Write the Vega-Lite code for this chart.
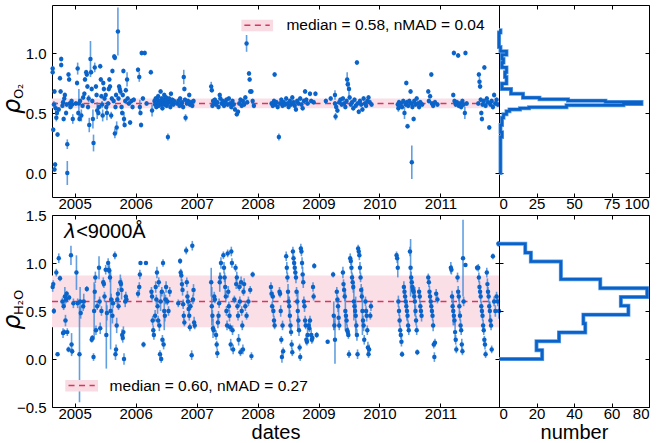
{
  "$schema": "https://vega.github.io/schema/vega-lite/v6.json",
  "background": "white",
  "padding": {"left": 0, "top": 4, "right": 0, "bottom": 0},
  "config": {
    "font": "Liberation Sans",
    "view": {"stroke": "#000000", "strokeWidth": 1},
    "axis": {
      "grid": false, "domain": false, "tickColor": "#000000", "tickSize": -4, "tickWidth": 1,
      "labelFont": "Liberation Sans", "labelFontSize": 15, "labelColor": "#000000", "labelPadding": 6,
      "titleFont": "Liberation Sans", "titleFontSize": 20, "titleFontWeight": "normal", "titleColor": "#000000", "titlePadding": 1
    }
  },
  "datasets": {
    "statO2": [{"median": 0.58, "nmad": 0.04, "lo": 0.54, "hi": 0.62}],
    "statH2O": [{"median": 0.60, "nmad": 0.27, "lo": 0.33, "hi": 0.87}],
    "histO2": [
      {"k": 0, "y": 0.0, "n": 0}, {"k": 1, "y": 0.0, "n": 1}, {"k": 2, "y": 0.30, "n": 2}, {"k": 3, "y": 0.34, "n": 1},
      {"k": 4, "y": 0.40, "n": 2}, {"k": 5, "y": 0.46, "n": 3}, {"k": 6, "y": 0.49, "n": 5}, {"k": 7, "y": 0.515, "n": 7},
      {"k": 8, "y": 0.53, "n": 14}, {"k": 9, "y": 0.54, "n": 20}, {"k": 10, "y": 0.548, "n": 45}, {"k": 11, "y": 0.565, "n": 83},
      {"k": 12, "y": 0.576, "n": 95}, {"k": 13, "y": 0.592, "n": 71}, {"k": 14, "y": 0.603, "n": 46}, {"k": 15, "y": 0.615, "n": 27},
      {"k": 16, "y": 0.628, "n": 16}, {"k": 17, "y": 0.66, "n": 8}, {"k": 18, "y": 0.70, "n": 2}, {"k": 19, "y": 0.745, "n": 5},
      {"k": 20, "y": 0.80, "n": 4}, {"k": 21, "y": 0.84, "n": 5}, {"k": 22, "y": 0.88, "n": 2}, {"k": 23, "y": 0.92, "n": 3},
      {"k": 24, "y": 0.95, "n": 2}, {"k": 25, "y": 0.985, "n": 5}, {"k": 26, "y": 1.015, "n": 1}, {"k": 27, "y": 1.05, "n": 0},
      {"k": 28, "y": 1.17, "n": 1}, {"k": 29, "y": 1.19, "n": 0}
    ],
    "histH2O": [
      {"k": 0, "y": 0.0, "n": 0}, {"k": 1, "y": 0.0, "n": 23}, {"k": 2, "y": 0.092, "n": 20}, {"k": 3, "y": 0.185, "n": 32},
      {"k": 4, "y": 0.277, "n": 46}, {"k": 5, "y": 0.369, "n": 45}, {"k": 6, "y": 0.462, "n": 69}, {"k": 7, "y": 0.554, "n": 65},
      {"k": 8, "y": 0.646, "n": 79}, {"k": 9, "y": 0.738, "n": 54}, {"k": 10, "y": 0.831, "n": 33}, {"k": 11, "y": 0.923, "n": 33},
      {"k": 12, "y": 1.015, "n": 17}, {"k": 13, "y": 1.108, "n": 14}, {"k": 14, "y": 1.2, "n": 0}
    ],
    "o2": [
      {"t":2004.64,"v":0.87,"e":0.02},{"t":2004.64,"v":0.84,"e":0.02},{"t":2004.65,"v":0.36,"e":0.02},{"t":2004.66,"v":0.57,"e":0.03},
      {"t":2004.67,"v":0.03,"e":0.02},{"t":2004.68,"v":0.07,"e":0.02},{"t":2004.67,"v":0.68,"e":0.02},{"t":2004.69,"v":0.54,"e":0.05},
      {"t":2004.70,"v":0.46,"e":0.03},{"t":2004.71,"v":0.50,"e":0.02},{"t":2004.72,"v":0.32,"e":0.02},{"t":2004.74,"v":0.53,"e":0.02},
      {"t":2004.76,"v":0.79,"e":0.02},{"t":2004.77,"v":0.68,"e":0.02},{"t":2004.78,"v":0.95,"e":0.02},{"t":2004.78,"v":0.90,"e":0.02},
      {"t":2004.80,"v":0.56,"e":0.02},{"t":2004.81,"v":0.59,"e":0.02},{"t":2004.82,"v":0.45,"e":0.02},{"t":2004.83,"v":0.62,"e":0.03},
      {"t":2004.84,"v":0.65,"e":0.02},{"t":2004.86,"v":0.50,"e":0.02},{"t":2004.87,"v":0.57,"e":0.02},{"t":2004.88,"v":0.24,"e":0.04},
      {"t":2004.88,"v":0.00,"e":0.10},{"t":2004.90,"v":0.82,"e":0.02},{"t":2004.91,"v":0.78,"e":0.02},{"t":2004.92,"v":0.58,"e":0.02},
      {"t":2004.93,"v":0.55,"e":0.02},{"t":2004.95,"v":0.60,"e":0.02},{"t":2004.96,"v":0.57,"e":0.03},{"t":2004.97,"v":0.45,"e":0.04},
      {"t":2005.02,"v":0.58,"e":0.02},{"t":2005.04,"v":0.75,"e":0.02},{"t":2005.05,"v":0.87,"e":0.05},{"t":2005.06,"v":0.50,"e":0.02},
      {"t":2005.07,"v":0.58,"e":0.12},{"t":2005.08,"v":0.45,"e":0.02},{"t":2005.09,"v":0.60,"e":0.02},{"t":2005.11,"v":0.48,"e":0.05},
      {"t":2005.13,"v":0.56,"e":0.02},{"t":2005.14,"v":0.63,"e":0.02},{"t":2005.16,"v":0.66,"e":0.02},{"t":2005.17,"v":0.78,"e":0.02},
      {"t":2005.19,"v":0.84,"e":0.02},{"t":2005.20,"v":0.82,"e":0.02},{"t":2005.21,"v":0.72,"e":0.02},{"t":2005.22,"v":0.55,"e":0.02},
      {"t":2005.23,"v":0.62,"e":0.03},{"t":2005.24,"v":0.40,"e":0.06},{"t":2005.26,"v":0.95,"e":0.15},{"t":2005.27,"v":0.84,"e":0.02},
      {"t":2005.28,"v":0.70,"e":0.02},{"t":2005.29,"v":0.60,"e":0.02},{"t":2005.30,"v":0.45,"e":0.08},{"t":2005.31,"v":0.25,"e":0.07},
      {"t":2005.33,"v":0.88,"e":0.04},{"t":2005.35,"v":0.72,"e":0.02},{"t":2005.36,"v":0.65,"e":0.02},{"t":2005.37,"v":0.52,"e":0.07},
      {"t":2005.39,"v":0.50,"e":0.02},{"t":2005.40,"v":0.55,"e":0.02},{"t":2005.42,"v":0.89,"e":0.02},{"t":2005.43,"v":0.78,"e":0.02},
      {"t":2005.44,"v":0.64,"e":0.02},{"t":2005.45,"v":0.57,"e":0.03},{"t":2005.46,"v":0.48,"e":0.05},{"t":2005.47,"v":0.75,"e":0.02},
      {"t":2005.48,"v":0.70,"e":0.02},{"t":2005.49,"v":0.62,"e":0.02},
      {"t":2005.51,"v":0.65,"e":0.02},{"t":2005.52,"v":0.55,"e":0.02},{"t":2005.53,"v":0.50,"e":0.06},{"t":2005.55,"v":0.58,"e":0.02},
      {"t":2005.56,"v":0.70,"e":0.02},{"t":2005.57,"v":0.78,"e":0.02},{"t":2005.58,"v":0.72,"e":0.02},{"t":2005.60,"v":0.48,"e":0.03},
      {"t":2005.61,"v":0.62,"e":0.02},{"t":2005.62,"v":0.85,"e":0.02},{"t":2005.64,"v":0.60,"e":0.02},{"t":2005.65,"v":0.97,"e":0.02},
      {"t":2005.66,"v":0.96,"e":0.02},{"t":2005.66,"v":0.33,"e":0.04},{"t":2005.67,"v":0.55,"e":0.02},{"t":2005.68,"v":0.65,"e":0.02},
      {"t":2005.69,"v":0.38,"e":0.05},{"t":2005.71,"v":1.18,"e":0.20},{"t":2005.72,"v":0.62,"e":0.02},{"t":2005.73,"v":0.72,"e":0.02},
      {"t":2005.74,"v":0.70,"e":0.02},{"t":2005.75,"v":0.68,"e":0.03},{"t":2005.77,"v":0.55,"e":0.02},{"t":2005.78,"v":0.50,"e":0.02},
      {"t":2005.79,"v":0.65,"e":0.02},{"t":2005.80,"v":0.85,"e":0.02},{"t":2005.81,"v":0.45,"e":0.06},{"t":2005.82,"v":0.40,"e":0.02},
      {"t":2005.83,"v":0.60,"e":0.02},{"t":2005.84,"v":0.69,"e":0.02},{"t":2005.86,"v":0.78,"e":0.06},{"t":2005.87,"v":0.62,"e":0.02},
      {"t":2005.89,"v":0.58,"e":0.02},{"t":2005.91,"v":0.42,"e":0.02},{"t":2005.93,"v":0.60,"e":0.02},{"t":2005.95,"v":0.55,"e":0.02},
      {"t":2005.97,"v":0.61,"e":0.02},
      {"t":2006.04,"v":0.86,"e":0.02},{"t":2006.06,"v":0.80,"e":0.04},{"t":2006.07,"v":0.55,"e":0.06},{"t":2006.08,"v":0.50,"e":0.02},
      {"t":2006.09,"v":0.40,"e":0.02},{"t":2006.10,"v":1.00,"e":0.02},{"t":2006.12,"v":0.62,"e":0.02},{"t":2006.15,"v":1.00,"e":0.02},
      {"t":2006.18,"v":0.58,"e":0.02},{"t":2006.25,"v":0.84,"e":0.02},{"t":2006.27,"v":0.52,"e":0.05},
      {"t":2006.31,"v":0.60,"e":0.02},{"t":2006.32,"v":0.57,"e":0.02},{"t":2006.33,"v":0.62,"e":0.02},{"t":2006.34,"v":0.55,"e":0.02},
      {"t":2006.35,"v":0.59,"e":0.02},{"t":2006.36,"v":0.61,"e":0.02},{"t":2006.37,"v":0.64,"e":0.02},{"t":2006.38,"v":0.56,"e":0.02},
      {"t":2006.39,"v":0.58,"e":0.02},{"t":2006.40,"v":0.60,"e":0.02},{"t":2006.41,"v":0.68,"e":0.02},{"t":2006.42,"v":0.57,"e":0.02},
      {"t":2006.43,"v":0.62,"e":0.02},{"t":2006.44,"v":0.54,"e":0.02},{"t":2006.45,"v":0.59,"e":0.02},{"t":2006.46,"v":0.61,"e":0.02},
      {"t":2006.47,"v":0.65,"e":0.02},{"t":2006.48,"v":0.57,"e":0.02},{"t":2006.49,"v":0.60,"e":0.02},{"t":2006.50,"v":0.63,"e":0.02},
      {"t":2006.51,"v":0.56,"e":0.02},{"t":2006.52,"v":0.58,"e":0.02},{"t":2006.53,"v":0.30,"e":0.03},{"t":2006.54,"v":0.60,"e":0.02},
      {"t":2006.55,"v":0.62,"e":0.02},{"t":2006.56,"v":0.59,"e":0.02},{"t":2006.57,"v":0.55,"e":0.02},{"t":2006.58,"v":0.66,"e":0.02},
      {"t":2006.59,"v":0.58,"e":0.02},{"t":2006.60,"v":0.61,"e":0.02},{"t":2006.62,"v":0.57,"e":0.02},{"t":2006.63,"v":0.60,"e":0.02},
      {"t":2006.68,"v":0.58,"e":0.02},{"t":2006.70,"v":0.60,"e":0.02},{"t":2006.72,"v":0.56,"e":0.02},{"t":2006.73,"v":0.62,"e":0.02},
      {"t":2006.75,"v":0.57,"e":0.02},{"t":2006.76,"v":0.59,"e":0.02},{"t":2006.78,"v":0.55,"e":0.02},{"t":2006.79,"v":0.80,"e":0.06},
      {"t":2006.80,"v":0.70,"e":0.02},{"t":2006.81,"v":0.61,"e":0.02},{"t":2006.82,"v":0.46,"e":0.03},{"t":2006.84,"v":0.58,"e":0.02},
      {"t":2006.86,"v":0.60,"e":0.02},{"t":2006.88,"v":0.65,"e":0.02},{"t":2006.89,"v":0.57,"e":0.02},{"t":2006.91,"v":0.59,"e":0.02},
      {"t":2006.93,"v":0.56,"e":0.02},{"t":2006.95,"v":0.60,"e":0.02},
      {"t":2007.24,"v":0.72,"e":0.04},{"t":2007.25,"v":0.69,"e":0.02},{"t":2007.26,"v":0.56,"e":0.02},{"t":2007.27,"v":0.60,"e":0.02},
      {"t":2007.29,"v":0.58,"e":0.02},{"t":2007.30,"v":0.61,"e":0.02},{"t":2007.32,"v":0.57,"e":0.02},{"t":2007.34,"v":0.59,"e":0.02},
      {"t":2007.36,"v":0.55,"e":0.02},{"t":2007.38,"v":0.65,"e":0.02},{"t":2007.39,"v":0.62,"e":0.02},{"t":2007.41,"v":0.58,"e":0.02},
      {"t":2007.43,"v":0.60,"e":0.02},{"t":2007.45,"v":0.56,"e":0.02},{"t":2007.47,"v":0.59,"e":0.02},{"t":2007.49,"v":0.61,"e":0.02},
      {"t":2007.51,"v":0.57,"e":0.02},{"t":2007.53,"v":0.62,"e":0.02},{"t":2007.55,"v":0.58,"e":0.02},{"t":2007.57,"v":0.55,"e":0.02},
      {"t":2007.59,"v":0.60,"e":0.02},{"t":2007.61,"v":0.57,"e":0.02},{"t":2007.63,"v":0.53,"e":0.02},{"t":2007.66,"v":0.49,"e":0.02},
      {"t":2007.68,"v":0.51,"e":0.02},{"t":2007.70,"v":0.58,"e":0.02},{"t":2007.72,"v":0.61,"e":0.02},{"t":2007.74,"v":0.56,"e":0.02},
      {"t":2007.76,"v":0.60,"e":0.02},{"t":2007.78,"v":0.57,"e":0.02},{"t":2007.80,"v":0.63,"e":0.02},{"t":2007.82,"v":1.08,"e":0.07},
      {"t":2007.83,"v":0.59,"e":0.02},{"t":2007.86,"v":0.83,"e":0.02},{"t":2007.87,"v":0.78,"e":0.02},{"t":2007.88,"v":0.68,"e":0.02},
      {"t":2007.90,"v":0.68,"e":0.02},{"t":2007.92,"v":0.60,"e":0.02},{"t":2007.94,"v":0.56,"e":0.02},
      {"t":2008.23,"v":0.58,"e":0.02},{"t":2008.25,"v":0.56,"e":0.02},{"t":2008.27,"v":0.60,"e":0.02},{"t":2008.28,"v":0.82,"e":0.02},
      {"t":2008.29,"v":0.57,"e":0.02},{"t":2008.31,"v":0.59,"e":0.02},{"t":2008.33,"v":0.55,"e":0.02},{"t":2008.35,"v":0.30,"e":0.03},
      {"t":2008.37,"v":0.58,"e":0.02},{"t":2008.39,"v":0.61,"e":0.02},{"t":2008.41,"v":0.56,"e":0.02},{"t":2008.43,"v":0.59,"e":0.02},
      {"t":2008.45,"v":0.57,"e":0.02},{"t":2008.47,"v":0.62,"e":0.02},{"t":2008.49,"v":0.58,"e":0.02},{"t":2008.51,"v":0.55,"e":0.02},
      {"t":2008.53,"v":0.60,"e":0.02},{"t":2008.55,"v":0.57,"e":0.02},{"t":2008.57,"v":0.63,"e":0.02},{"t":2008.59,"v":0.59,"e":0.02},
      {"t":2008.61,"v":0.56,"e":0.02},{"t":2008.63,"v":0.53,"e":0.02},{"t":2008.65,"v":0.60,"e":0.02},{"t":2008.67,"v":0.58,"e":0.02},
      {"t":2008.70,"v":0.62,"e":0.02},{"t":2008.72,"v":0.57,"e":0.02},{"t":2008.74,"v":0.54,"e":0.02},{"t":2008.76,"v":0.60,"e":0.02},
      {"t":2008.78,"v":0.68,"e":0.02},{"t":2008.80,"v":0.61,"e":0.02},{"t":2008.82,"v":0.58,"e":0.02},{"t":2008.86,"v":0.66,"e":0.02},
      {"t":2008.88,"v":0.60,"e":0.02},{"t":2008.92,"v":0.59,"e":0.02},{"t":2008.95,"v":0.66,"e":0.02},
      {"t":2009.12,"v":0.60,"e":0.02},{"t":2009.20,"v":0.62,"e":0.02},{"t":2009.27,"v":0.65,"e":0.04},{"t":2009.27,"v":0.58,"e":0.02},
      {"t":2009.28,"v":0.47,"e":0.03},{"t":2009.29,"v":0.55,"e":0.02},{"t":2009.31,"v":0.52,"e":0.02},{"t":2009.34,"v":0.59,"e":0.02},
      {"t":2009.36,"v":0.61,"e":0.02},{"t":2009.38,"v":0.57,"e":0.02},{"t":2009.40,"v":0.62,"e":0.02},{"t":2009.42,"v":0.58,"e":0.02},
      {"t":2009.44,"v":0.55,"e":0.02},{"t":2009.46,"v":0.60,"e":0.02},{"t":2009.47,"v":0.78,"e":0.06},{"t":2009.48,"v":0.74,"e":0.03},
      {"t":2009.50,"v":0.70,"e":0.06},{"t":2009.51,"v":0.63,"e":0.02},{"t":2009.53,"v":0.57,"e":0.02},{"t":2009.55,"v":0.59,"e":0.02},
      {"t":2009.57,"v":0.54,"e":0.02},{"t":2009.59,"v":0.61,"e":0.02},{"t":2009.61,"v":0.56,"e":0.02},{"t":2009.63,"v":0.92,"e":0.02},
      {"t":2009.64,"v":0.58,"e":0.02},{"t":2009.66,"v":0.51,"e":0.02},{"t":2009.68,"v":0.60,"e":0.02},{"t":2009.70,"v":0.57,"e":0.02},
      {"t":2009.72,"v":0.53,"e":0.02},{"t":2009.74,"v":0.62,"e":0.02},{"t":2009.76,"v":0.58,"e":0.02},{"t":2009.78,"v":0.56,"e":0.02},
      {"t":2009.80,"v":0.60,"e":0.02},{"t":2009.82,"v":0.63,"e":0.02},{"t":2009.84,"v":0.59,"e":0.02},{"t":2009.87,"v":0.57,"e":0.02},
      {"t":2010.30,"v":0.57,"e":0.02},{"t":2010.31,"v":0.54,"e":0.03},{"t":2010.32,"v":0.59,"e":0.02},{"t":2010.33,"v":0.56,"e":0.02},
      {"t":2010.35,"v":0.58,"e":0.02},{"t":2010.37,"v":0.55,"e":0.02},{"t":2010.39,"v":0.60,"e":0.02},{"t":2010.41,"v":0.50,"e":0.05},
      {"t":2010.43,"v":0.57,"e":0.02},{"t":2010.44,"v":0.75,"e":0.02},{"t":2010.45,"v":0.59,"e":0.02},{"t":2010.46,"v":0.39,"e":0.02},
      {"t":2010.47,"v":0.56,"e":0.02},{"t":2010.49,"v":0.60,"e":0.02},{"t":2010.51,"v":0.68,"e":0.02},{"t":2010.52,"v":0.58,"e":0.02},
      {"t":2010.53,"v":0.09,"e":0.14},{"t":2010.54,"v":0.55,"e":0.02},{"t":2010.56,"v":0.45,"e":0.02},{"t":2010.57,"v":0.60,"e":0.02},
      {"t":2010.59,"v":0.57,"e":0.02},{"t":2010.61,"v":0.62,"e":0.02},{"t":2010.63,"v":0.58,"e":0.02},{"t":2010.65,"v":0.55,"e":0.02},
      {"t":2010.67,"v":0.59,"e":0.02},{"t":2010.70,"v":0.57,"e":0.02},{"t":2010.80,"v":0.68,"e":0.02},{"t":2010.81,"v":0.60,"e":0.02},
      {"t":2010.83,"v":0.64,"e":0.02},{"t":2010.85,"v":0.82,"e":0.02},{"t":2010.86,"v":0.58,"e":0.02},{"t":2010.88,"v":0.56,"e":0.02},
      {"t":2010.91,"v":0.59,"e":0.02},{"t":2010.95,"v":0.57,"e":0.02},
      {"t":2011.21,"v":0.65,"e":0.02},{"t":2011.22,"v":1.00,"e":0.02},{"t":2011.23,"v":0.60,"e":0.02},{"t":2011.25,"v":0.57,"e":0.02},
      {"t":2011.27,"v":0.59,"e":0.02},{"t":2011.29,"v":0.98,"e":0.02},{"t":2011.30,"v":0.56,"e":0.02},{"t":2011.32,"v":0.58,"e":0.02},
      {"t":2011.34,"v":0.55,"e":0.02},{"t":2011.36,"v":0.60,"e":0.02},{"t":2011.38,"v":0.57,"e":0.02},{"t":2011.40,"v":0.50,"e":0.05},
      {"t":2011.41,"v":1.00,"e":0.02},{"t":2011.43,"v":0.58,"e":0.02},
      {"t":2011.62,"v":0.58,"e":0.02},{"t":2011.63,"v":0.82,"e":0.02},{"t":2011.64,"v":0.76,"e":0.04},{"t":2011.65,"v":0.72,"e":0.02},
      {"t":2011.66,"v":0.61,"e":0.02},{"t":2011.67,"v":0.50,"e":0.02},{"t":2011.68,"v":0.45,"e":0.02},{"t":2011.69,"v":0.57,"e":0.02},
      {"t":2011.71,"v":0.60,"e":0.02},{"t":2011.72,"v":0.88,"e":0.02},{"t":2011.74,"v":0.56,"e":0.02},{"t":2011.76,"v":0.62,"e":0.02},
      {"t":2011.78,"v":0.59,"e":0.02},{"t":2011.80,"v":0.38,"e":0.02},{"t":2011.82,"v":0.57,"e":0.02},{"t":2011.84,"v":0.60,"e":0.02},
      {"t":2011.86,"v":0.55,"e":0.02},{"t":2011.88,"v":0.65,"e":0.02},{"t":2011.90,"v":0.58,"e":0.02},{"t":2011.92,"v":0.61,"e":0.02},
      {"t":2011.94,"v":0.57,"e":0.02}
    ],
    "h2o": [
      {"t":2004.64,"v":0.75,"e":0.05},{"t":2004.65,"v":0.78,"e":0.04},{"t":2004.66,"v":0.50,"e":0.03},{"t":2004.70,"v":0.90,"e":0.04},
      {"t":2004.72,"v":0.05,"e":0.02},{"t":2004.74,"v":1.05,"e":0.05},{"t":2004.76,"v":0.84,"e":0.03},{"t":2004.80,"v":0.60,"e":0.04},
      {"t":2004.81,"v":0.27,"e":0.05},{"t":2004.82,"v":0.55,"e":0.04},{"t":2004.83,"v":0.28,"e":0.03},{"t":2004.84,"v":0.65,"e":0.10},
      {"t":2004.85,"v":0.40,"e":0.06},{"t":2004.86,"v":0.62,"e":0.04},{"t":2004.87,"v":0.68,"e":0.03},{"t":2004.88,"v":0.28,"e":0.04},
      {"t":2004.90,"v":0.10,"e":0.03},{"t":2004.91,"v":0.64,"e":0.03},{"t":2004.94,"v":1.08,"e":0.10},{"t":2004.95,"v":0.15,"e":0.12},
      {"t":2004.96,"v":0.08,"e":0.03},{"t":2004.98,"v":0.58,"e":0.05},
      {"t":2005.03,"v":0.90,"e":0.18},{"t":2005.05,"v":0.58,"e":0.05},{"t":2005.08,"v":0.05,"e":0.50},{"t":2005.09,"v":0.60,"e":0.15},
      {"t":2005.10,"v":0.48,"e":0.06},{"t":2005.14,"v":0.55,"e":0.05},{"t":2005.15,"v":0.60,"e":0.08},{"t":2005.20,"v":0.73,"e":0.03},
      {"t":2005.28,"v":0.20,"e":0.03},{"t":2005.29,"v":0.22,"e":0.03},{"t":2005.31,"v":0.02,"e":0.04},{"t":2005.32,"v":0.50,"e":0.30},
      {"t":2005.33,"v":0.70,"e":0.08},{"t":2005.34,"v":0.85,"e":0.06},{"t":2005.35,"v":0.30,"e":0.05},{"t":2005.37,"v":0.55,"e":0.04},
      {"t":2005.40,"v":0.95,"e":0.12},{"t":2005.41,"v":0.60,"e":0.05},{"t":2005.42,"v":0.32,"e":0.06},{"t":2005.44,"v":0.50,"e":0.05},
      {"t":2005.47,"v":0.80,"e":0.05},{"t":2005.48,"v":0.78,"e":0.04},{"t":2005.49,"v":0.65,"e":0.05},
      {"t":2005.51,"v":0.93,"e":0.05},{"t":2005.52,"v":0.25,"e":0.35},{"t":2005.53,"v":0.48,"e":0.08},{"t":2005.55,"v":1.00,"e":0.05},
      {"t":2005.56,"v":0.93,"e":0.04},{"t":2005.57,"v":0.92,"e":0.06},{"t":2005.58,"v":0.85,"e":0.05},{"t":2005.59,"v":0.50,"e":0.40},
      {"t":2005.60,"v":0.62,"e":0.06},{"t":2005.62,"v":0.45,"e":0.08},{"t":2005.63,"v":0.58,"e":0.05},{"t":2005.66,"v":1.08,"e":0.04},
      {"t":2005.67,"v":0.05,"e":0.06},{"t":2005.68,"v":0.10,"e":0.05},{"t":2005.69,"v":0.35,"e":0.08},{"t":2005.70,"v":0.62,"e":0.05},
      {"t":2005.71,"v":0.68,"e":0.06},{"t":2005.72,"v":0.55,"e":0.04},{"t":2005.75,"v":0.80,"e":0.08},{"t":2005.76,"v":0.78,"e":0.06},
      {"t":2005.77,"v":0.72,"e":0.10},{"t":2005.78,"v":0.25,"e":0.06},{"t":2005.79,"v":0.22,"e":0.05},{"t":2005.80,"v":0.28,"e":0.06},
      {"t":2005.81,"v":0.00,"e":0.06},{"t":2005.83,"v":0.60,"e":0.06},{"t":2005.84,"v":0.65,"e":0.05},{"t":2005.85,"v":0.62,"e":0.04},
      {"t":2006.04,"v":0.68,"e":0.04},{"t":2006.06,"v":0.75,"e":0.05},{"t":2006.07,"v":0.88,"e":0.05},{"t":2006.08,"v":1.00,"e":0.02},
      {"t":2006.13,"v":0.15,"e":0.03},{"t":2006.17,"v":1.00,"e":0.02},{"t":2006.26,"v":0.70,"e":0.05},{"t":2006.27,"v":0.65,"e":0.04},
      {"t":2006.28,"v":0.40,"e":0.05},{"t":2006.29,"v":0.30,"e":0.05},{"t":2006.30,"v":0.25,"e":0.05},
      {"t":2006.32,"v":0.45,"e":0.06},{"t":2006.33,"v":0.75,"e":0.06},{"t":2006.34,"v":0.62,"e":0.05},{"t":2006.35,"v":0.90,"e":0.06},
      {"t":2006.36,"v":0.55,"e":0.08},{"t":2006.37,"v":0.40,"e":0.05},{"t":2006.38,"v":0.80,"e":0.05},{"t":2006.39,"v":0.35,"e":0.06},
      {"t":2006.40,"v":0.05,"e":0.04},{"t":2006.41,"v":0.60,"e":0.10},{"t":2006.42,"v":0.00,"e":0.04},{"t":2006.43,"v":0.70,"e":0.05},
      {"t":2006.44,"v":0.20,"e":0.05},{"t":2006.45,"v":1.00,"e":0.04},{"t":2006.46,"v":0.15,"e":0.05},{"t":2006.47,"v":0.50,"e":0.20},
      {"t":2006.48,"v":0.45,"e":0.06},{"t":2006.49,"v":0.62,"e":0.05},{"t":2006.50,"v":0.75,"e":0.06},{"t":2006.52,"v":0.60,"e":0.04},
      {"t":2006.54,"v":0.50,"e":0.05},{"t":2006.56,"v":0.70,"e":0.05},
      {"t":2006.70,"v":0.58,"e":0.04},{"t":2006.73,"v":1.02,"e":0.03},{"t":2006.74,"v":0.90,"e":0.04},{"t":2006.75,"v":0.87,"e":0.06},
      {"t":2006.76,"v":0.78,"e":0.05},{"t":2006.77,"v":0.72,"e":0.06},{"t":2006.78,"v":0.57,"e":0.05},{"t":2006.79,"v":0.45,"e":0.05},
      {"t":2006.80,"v":0.38,"e":0.04},{"t":2006.83,"v":1.13,"e":0.04},{"t":2006.84,"v":0.80,"e":0.05},{"t":2006.85,"v":0.65,"e":0.06},
      {"t":2006.86,"v":0.60,"e":0.05},{"t":2006.87,"v":0.52,"e":0.06},{"t":2006.88,"v":0.45,"e":0.05},{"t":2006.89,"v":0.33,"e":0.04},
      {"t":2006.90,"v":0.55,"e":0.04},{"t":2006.92,"v":0.04,"e":0.05},{"t":2006.93,"v":1.18,"e":0.05},{"t":2006.94,"v":0.62,"e":0.05},
      {"t":2006.95,"v":0.72,"e":0.06},{"t":2006.96,"v":0.38,"e":0.06},{"t":2006.97,"v":0.35,"e":0.04},
      {"t":2007.24,"v":0.80,"e":0.15},{"t":2007.25,"v":0.55,"e":0.20},{"t":2007.26,"v":0.45,"e":0.06},{"t":2007.27,"v":0.32,"e":0.10},
      {"t":2007.28,"v":0.30,"e":0.05},{"t":2007.29,"v":0.65,"e":0.05},{"t":2007.30,"v":0.62,"e":0.04},{"t":2007.32,"v":0.25,"e":0.05},
      {"t":2007.33,"v":0.15,"e":0.04},{"t":2007.34,"v":0.06,"e":0.05},{"t":2007.35,"v":0.38,"e":0.06},{"t":2007.36,"v":0.45,"e":0.05},
      {"t":2007.37,"v":0.58,"e":0.05},{"t":2007.38,"v":0.80,"e":0.10},{"t":2007.39,"v":0.85,"e":0.05},{"t":2007.40,"v":1.00,"e":0.06},
      {"t":2007.44,"v":1.08,"e":0.04},{"t":2007.45,"v":0.95,"e":0.06},{"t":2007.46,"v":0.85,"e":0.05},{"t":2007.47,"v":0.75,"e":0.08},
      {"t":2007.48,"v":0.65,"e":0.06},{"t":2007.49,"v":0.50,"e":0.05},{"t":2007.50,"v":0.35,"e":0.05},{"t":2007.51,"v":1.10,"e":0.04},
      {"t":2007.52,"v":0.70,"e":0.06},{"t":2007.53,"v":0.55,"e":0.05},{"t":2007.54,"v":0.45,"e":0.06},{"t":2007.55,"v":0.33,"e":0.04},
      {"t":2007.56,"v":0.15,"e":0.06},{"t":2007.57,"v":1.12,"e":0.05},{"t":2007.58,"v":1.00,"e":0.05},{"t":2007.59,"v":0.30,"e":0.05},
      {"t":2007.60,"v":0.10,"e":0.05},{"t":2007.62,"v":0.62,"e":0.04},{"t":2007.64,"v":0.95,"e":0.04},{"t":2007.65,"v":0.78,"e":0.05},
      {"t":2007.66,"v":0.85,"e":0.06},{"t":2007.67,"v":0.55,"e":0.04},{"t":2007.68,"v":0.45,"e":0.05},{"t":2007.69,"v":0.20,"e":0.06},
      {"t":2007.70,"v":0.75,"e":0.04},{"t":2007.71,"v":0.60,"e":0.05},{"t":2007.72,"v":0.07,"e":0.04},{"t":2007.73,"v":0.80,"e":0.06},
      {"t":2007.74,"v":0.50,"e":0.05},{"t":2007.75,"v":0.35,"e":0.05},{"t":2007.76,"v":0.10,"e":0.05},{"t":2007.77,"v":0.70,"e":0.04},
      {"t":2007.78,"v":0.78,"e":0.06},{"t":2007.80,"v":0.55,"e":0.05},{"t":2007.82,"v":0.45,"e":0.04},{"t":2007.85,"v":0.60,"e":0.05},
      {"t":2007.88,"v":0.72,"e":0.04},{"t":2007.90,"v":0.03,"e":0.04},{"t":2007.92,"v":0.88,"e":0.03},
      {"t":2008.22,"v":0.75,"e":0.05},{"t":2008.23,"v":0.68,"e":0.04},{"t":2008.24,"v":0.55,"e":0.05},{"t":2008.25,"v":0.65,"e":0.05},
      {"t":2008.26,"v":0.50,"e":0.06},{"t":2008.27,"v":0.40,"e":0.05},{"t":2008.28,"v":0.35,"e":0.04},{"t":2008.36,"v":0.70,"e":0.05},
      {"t":2008.37,"v":0.68,"e":0.04},{"t":2008.38,"v":0.50,"e":0.06},{"t":2008.39,"v":0.20,"e":0.04},{"t":2008.40,"v":0.02,"e":0.06},
      {"t":2008.41,"v":0.35,"e":0.05},{"t":2008.42,"v":0.08,"e":0.04},{"t":2008.47,"v":1.07,"e":0.05},{"t":2008.48,"v":0.95,"e":0.06},
      {"t":2008.49,"v":0.85,"e":0.05},{"t":2008.50,"v":0.70,"e":0.08},{"t":2008.51,"v":0.60,"e":0.05},{"t":2008.52,"v":0.55,"e":0.10},
      {"t":2008.53,"v":0.45,"e":0.06},{"t":2008.54,"v":0.35,"e":0.05},{"t":2008.55,"v":0.28,"e":0.04},{"t":2008.56,"v":0.15,"e":0.05},
      {"t":2008.57,"v":0.07,"e":0.04},{"t":2008.58,"v":1.12,"e":0.05},{"t":2008.59,"v":1.05,"e":0.04},{"t":2008.60,"v":1.00,"e":0.05},
      {"t":2008.61,"v":0.95,"e":0.06},{"t":2008.62,"v":0.90,"e":0.05},{"t":2008.63,"v":0.85,"e":0.06},{"t":2008.64,"v":0.70,"e":0.05},
      {"t":2008.65,"v":0.60,"e":0.04},{"t":2008.66,"v":0.50,"e":0.20},{"t":2008.67,"v":0.40,"e":0.05},{"t":2008.68,"v":0.30,"e":0.06},
      {"t":2008.69,"v":0.12,"e":0.04},{"t":2008.70,"v":0.02,"e":0.04},{"t":2008.71,"v":1.15,"e":0.05},{"t":2008.72,"v":1.12,"e":0.05},
      {"t":2008.73,"v":1.00,"e":0.06},{"t":2008.74,"v":0.88,"e":0.08},{"t":2008.75,"v":0.80,"e":0.06},{"t":2008.76,"v":0.60,"e":0.05},
      {"t":2008.77,"v":0.55,"e":0.06},{"t":2008.78,"v":0.40,"e":0.05},{"t":2008.79,"v":0.35,"e":0.04},{"t":2008.80,"v":0.20,"e":0.05},
      {"t":2008.81,"v":0.18,"e":0.04},{"t":2008.82,"v":0.25,"e":0.06},{"t":2008.84,"v":0.35,"e":0.05},{"t":2008.85,"v":0.32,"e":0.04},
      {"t":2008.86,"v":0.40,"e":0.05},{"t":2008.88,"v":0.25,"e":0.06},{"t":2008.89,"v":0.20,"e":0.04},{"t":2008.90,"v":0.22,"e":0.05},
      {"t":2008.91,"v":0.75,"e":0.05},{"t":2008.92,"v":0.65,"e":0.04},{"t":2008.93,"v":0.97,"e":0.03},{"t":2008.97,"v":0.25,"e":0.03},
      {"t":2009.15,"v":0.18,"e":0.02},{"t":2009.24,"v":0.88,"e":0.03},{"t":2009.25,"v":0.45,"e":0.15},{"t":2009.26,"v":0.35,"e":0.05},
      {"t":2009.27,"v":0.20,"e":0.25},{"t":2009.30,"v":0.70,"e":0.05},{"t":2009.31,"v":0.62,"e":0.04},{"t":2009.32,"v":0.55,"e":0.06},
      {"t":2009.33,"v":0.43,"e":0.10},{"t":2009.34,"v":0.35,"e":0.05},{"t":2009.40,"v":0.90,"e":0.06},{"t":2009.41,"v":0.78,"e":0.05},
      {"t":2009.42,"v":0.72,"e":0.06},{"t":2009.43,"v":0.65,"e":0.05},{"t":2009.44,"v":0.50,"e":0.20},{"t":2009.45,"v":0.45,"e":0.06},
      {"t":2009.46,"v":0.40,"e":0.05},{"t":2009.47,"v":0.30,"e":0.06},{"t":2009.48,"v":0.28,"e":0.05},{"t":2009.49,"v":0.25,"e":0.04},
      {"t":2009.50,"v":0.05,"e":0.04},{"t":2009.52,"v":1.05,"e":0.05},{"t":2009.53,"v":1.02,"e":0.04},{"t":2009.54,"v":0.95,"e":0.06},
      {"t":2009.55,"v":0.85,"e":0.05},{"t":2009.56,"v":0.80,"e":0.08},{"t":2009.57,"v":0.75,"e":0.06},{"t":2009.58,"v":0.60,"e":0.20},
      {"t":2009.59,"v":0.55,"e":0.05},{"t":2009.60,"v":0.50,"e":0.06},{"t":2009.61,"v":0.45,"e":0.20},{"t":2009.62,"v":0.35,"e":0.05},
      {"t":2009.63,"v":0.25,"e":0.06},{"t":2009.64,"v":0.05,"e":0.05},{"t":2009.65,"v":1.15,"e":0.04},{"t":2009.66,"v":1.12,"e":0.05},
      {"t":2009.67,"v":1.08,"e":0.05},{"t":2009.68,"v":0.95,"e":0.06},{"t":2009.69,"v":0.85,"e":0.05},{"t":2009.70,"v":0.72,"e":0.06},
      {"t":2009.71,"v":0.65,"e":0.05},{"t":2009.72,"v":0.50,"e":0.25},{"t":2009.73,"v":0.40,"e":0.05},{"t":2009.74,"v":0.35,"e":0.06},
      {"t":2009.75,"v":0.20,"e":0.05},{"t":2009.77,"v":0.60,"e":0.05},{"t":2009.78,"v":0.50,"e":0.05},{"t":2009.79,"v":0.45,"e":0.06},
      {"t":2009.80,"v":0.30,"e":0.05},{"t":2009.81,"v":0.12,"e":0.06},{"t":2009.82,"v":0.05,"e":0.04},{"t":2009.83,"v":0.10,"e":0.05},
      {"t":2009.85,"v":0.45,"e":0.04},{"t":2009.86,"v":0.55,"e":0.05},
      {"t":2010.28,"v":1.08,"e":0.04},{"t":2010.29,"v":1.05,"e":0.05},{"t":2010.30,"v":0.95,"e":0.10},{"t":2010.31,"v":0.60,"e":0.06},
      {"t":2010.32,"v":0.50,"e":0.05},{"t":2010.33,"v":0.40,"e":0.06},{"t":2010.34,"v":0.30,"e":0.05},{"t":2010.35,"v":0.25,"e":0.04},
      {"t":2010.36,"v":0.18,"e":0.05},{"t":2010.37,"v":0.05,"e":0.03},{"t":2010.40,"v":0.75,"e":0.06},{"t":2010.41,"v":0.70,"e":0.05},
      {"t":2010.42,"v":0.65,"e":0.05},{"t":2010.43,"v":0.60,"e":0.06},{"t":2010.44,"v":0.55,"e":0.05},{"t":2010.45,"v":0.50,"e":0.10},
      {"t":2010.46,"v":0.45,"e":0.06},{"t":2010.47,"v":0.35,"e":0.05},{"t":2010.48,"v":0.30,"e":0.05},{"t":2010.50,"v":1.12,"e":0.05},
      {"t":2010.51,"v":0.95,"e":0.30},{"t":2010.52,"v":0.85,"e":0.06},{"t":2010.53,"v":0.80,"e":0.05},{"t":2010.54,"v":0.75,"e":0.06},
      {"t":2010.55,"v":0.72,"e":0.05},{"t":2010.56,"v":0.70,"e":0.06},{"t":2010.57,"v":0.65,"e":0.05},{"t":2010.58,"v":0.60,"e":0.15},
      {"t":2010.59,"v":0.50,"e":0.06},{"t":2010.60,"v":0.40,"e":0.05},{"t":2010.61,"v":0.30,"e":0.05},{"t":2010.62,"v":0.07,"e":0.03},
      {"t":2010.65,"v":0.70,"e":0.05},{"t":2010.66,"v":0.65,"e":0.06},{"t":2010.67,"v":0.55,"e":0.05},{"t":2010.68,"v":0.50,"e":0.05},
      {"t":2010.69,"v":0.45,"e":0.06},{"t":2010.80,"v":0.85,"e":0.04},{"t":2010.81,"v":0.80,"e":0.05},{"t":2010.82,"v":0.70,"e":0.06},
      {"t":2010.83,"v":0.65,"e":0.05},{"t":2010.84,"v":0.60,"e":0.06},{"t":2010.85,"v":0.55,"e":0.05},{"t":2010.86,"v":0.50,"e":0.06},
      {"t":2010.87,"v":0.45,"e":0.05},{"t":2010.88,"v":0.35,"e":0.06},{"t":2010.89,"v":0.15,"e":0.04},{"t":2010.90,"v":0.02,"e":0.05},
      {"t":2010.91,"v":0.17,"e":0.04},{"t":2010.93,"v":0.68,"e":0.05},{"t":2010.95,"v":0.62,"e":0.04},
      {"t":2011.17,"v":0.95,"e":0.06},{"t":2011.18,"v":0.93,"e":0.05},{"t":2011.19,"v":0.65,"e":0.06},{"t":2011.20,"v":0.55,"e":0.05},
      {"t":2011.21,"v":0.50,"e":0.15},{"t":2011.22,"v":0.45,"e":0.06},{"t":2011.23,"v":0.40,"e":0.05},{"t":2011.24,"v":0.28,"e":0.10},
      {"t":2011.25,"v":0.20,"e":0.05},{"t":2011.26,"v":0.10,"e":0.04},{"t":2011.28,"v":0.85,"e":0.05},{"t":2011.29,"v":0.70,"e":0.06},
      {"t":2011.30,"v":0.65,"e":0.05},{"t":2011.31,"v":0.55,"e":0.10},{"t":2011.32,"v":0.45,"e":0.05},{"t":2011.33,"v":0.35,"e":0.06},
      {"t":2011.34,"v":0.30,"e":0.05},{"t":2011.35,"v":0.15,"e":0.06},{"t":2011.36,"v":0.08,"e":0.04},{"t":2011.37,"v":1.05,"e":0.40},
      {"t":2011.38,"v":0.60,"e":0.05},{"t":2011.41,"v":0.98,"e":0.02},
      {"t":2011.60,"v":0.95,"e":0.03},{"t":2011.62,"v":0.95,"e":0.04},{"t":2011.63,"v":0.85,"e":0.05},{"t":2011.64,"v":0.75,"e":0.06},
      {"t":2011.65,"v":0.70,"e":0.05},{"t":2011.66,"v":0.65,"e":0.06},{"t":2011.67,"v":0.55,"e":0.05},{"t":2011.68,"v":0.50,"e":0.06},
      {"t":2011.69,"v":0.45,"e":0.05},{"t":2011.70,"v":0.35,"e":0.06},{"t":2011.71,"v":0.30,"e":0.05},{"t":2011.72,"v":0.20,"e":0.04},
      {"t":2011.73,"v":0.15,"e":0.05},{"t":2011.74,"v":0.05,"e":0.04},{"t":2011.76,"v":0.90,"e":0.05},{"t":2011.77,"v":0.78,"e":0.06},
      {"t":2011.78,"v":0.70,"e":0.05},{"t":2011.79,"v":0.65,"e":0.06},{"t":2011.80,"v":0.55,"e":0.05},{"t":2011.81,"v":0.50,"e":0.10},
      {"t":2011.82,"v":0.40,"e":0.06},{"t":2011.83,"v":0.35,"e":0.05},{"t":2011.84,"v":0.10,"e":0.04},{"t":2011.86,"v":1.07,"e":0.03},
      {"t":2011.88,"v":0.60,"e":0.05},{"t":2011.90,"v":0.50,"e":0.06},{"t":2011.92,"v":0.65,"e":0.05},{"t":2011.94,"v":0.60,"e":0.05},
      {"t":2011.95,"v":1.20,"e":0.03},{"t":2011.96,"v":0.50,"e":0.08}
    ]
  },
  "columns": 2,
  "spacing": {"row": 18, "column": 0},
  "bounds": "flush",
  "concat": [
    {
      "width": 447,
      "height": 192,
      "resolve": {"axis": {"x": "independent", "y": "independent"}},
      "layer": [
        {
          "data": {"name": "statO2"},
          "mark": {"type": "rect", "color": "#fadfe7"},
          "encoding": {
            "y": {"field": "lo", "type": "quantitative", "scale": {"domain": [-0.2, 1.4], "nice": false, "zero": false}, "axis": null},
            "y2": {"field": "hi"}
          }
        },
        {
          "data": {"name": "statO2"},
          "mark": {"type": "rule", "color": "#e0335c", "strokeDash": [6, 4.5], "strokeWidth": 1.5},
          "encoding": {
            "y": {"field": "median", "type": "quantitative", "scale": {"domain": [-0.2, 1.4], "nice": false, "zero": false}, "axis": null}
          }
        },
        {
          "data": {"name": "o2"},
          "mark": {"type": "errorbar", "color": "#3b87d9", "thickness": 1.6, "opacity": 0.8},
          "encoding": {
            "x": {"field": "t", "type": "quantitative", "scale": {"domain": [2004.629, 2011.96], "nice": false, "zero": false},
                  "axis": {"orient": "top", "labels": false, "values": [2005, 2006, 2007, 2008, 2009, 2010, 2011], "title": null}},
            "y": {"field": "v", "type": "quantitative", "scale": {"domain": [-0.2, 1.4], "nice": false, "zero": false},
                  "axis": {"orient": "right", "labels": false, "values": [0, 0.5, 1], "title": null}},
            "yError": {"field": "e"}
          }
        },
        {
          "data": {"name": "o2"},
          "mark": {"type": "circle", "size": 20, "opacity": 1, "color": "#0a63c9"},
          "encoding": {
            "x": {"field": "t", "type": "quantitative", "scale": {"domain": [2004.629, 2011.96], "nice": false, "zero": false},
                  "axis": {"orient": "bottom", "values": [2005, 2006, 2007, 2008, 2009, 2010, 2011], "format": "d", "title": null, "labelPadding": 3}},
            "y": {"field": "v", "type": "quantitative", "scale": {"domain": [-0.2, 1.4], "nice": false, "zero": false},
                  "axis": {"orient": "left", "values": [0, 0.5, 1], "format": ".1f", "title": null, "labelPadding": 10}}
          }
        },
        {
          "data": {"name": "statO2"},
          "mark": {"type": "rect", "color": "#f8dbe3"},
          "encoding": {
            "x": {"datum": 2007.735, "type": "quantitative", "scale": {"domain": [2004.629, 2011.96], "nice": false, "zero": false}, "axis": null},
            "x2": {"datum": 2008.255},
            "y": {"datum": 1.278, "type": "quantitative", "scale": {"domain": [-0.2, 1.4], "nice": false, "zero": false}, "axis": null},
            "y2": {"datum": 1.181}
          }
        },
        {
          "data": {"name": "statO2"},
          "mark": {"type": "rule", "color": "#e0335c", "strokeDash": [6, 4.5], "strokeWidth": 1.5},
          "encoding": {
            "x": {"datum": 2007.784, "type": "quantitative", "scale": {"domain": [2004.629, 2011.96], "nice": false, "zero": false}, "axis": null},
            "x2": {"datum": 2008.2},
            "y": {"datum": 1.231, "type": "quantitative", "scale": {"domain": [-0.2, 1.4], "nice": false, "zero": false}, "axis": null}
          }
        },
        {
          "data": {"name": "statO2"},
          "mark": {"type": "text", "text": "median = 0.58, nMAD = 0.04", "align": "left", "baseline": "middle", "fontSize": 15.5, "color": "#000000"},
          "encoding": {
            "x": {"datum": 2008.473, "type": "quantitative", "scale": {"domain": [2004.629, 2011.96], "nice": false, "zero": false}, "axis": null},
            "y": {"datum": 1.231, "type": "quantitative", "scale": {"domain": [-0.2, 1.4], "nice": false, "zero": false}, "axis": null}
          }
        },
        {
          "data": {"name": "statO2"},
          "mark": {"type": "text", "text": "ρ", "angle": 270, "align": "center", "baseline": "middle", "fontSize": 24, "fontStyle": "italic", "font": "DejaVu Sans", "color": "#000000"},
          "encoding": {
            "x": {"datum": 2003.994, "type": "quantitative", "scale": {"domain": [2004.629, 2011.96], "nice": false, "zero": false}, "axis": null},
            "y": {"datum": 0.555, "type": "quantitative", "scale": {"domain": [-0.2, 1.4], "nice": false, "zero": false}, "axis": null}
          }
        },
        {
          "data": {"name": "statO2"},
          "mark": {"type": "text", "text": "O₂", "angle": 270, "align": "center", "baseline": "middle", "fontSize": 13, "font": "DejaVu Sans", "color": "#000000"},
          "encoding": {
            "x": {"datum": 2004.08, "type": "quantitative", "scale": {"domain": [2004.629, 2011.96], "nice": false, "zero": false}, "axis": null},
            "y": {"datum": 0.68, "type": "quantitative", "scale": {"domain": [-0.2, 1.4], "nice": false, "zero": false}, "axis": null}
          }
        }
      ]
    },
    {
      "width": 150,
      "height": 192,
      "resolve": {"axis": {"x": "independent", "y": "independent"}},
      "layer": [
        {
          "data": {"name": "histO2"},
          "mark": {"type": "line", "interpolate": "step-before", "color": "#5d9ee6", "strokeWidth": 4},
          "encoding": {
            "x": {"field": "n", "type": "quantitative", "scale": {"domain": [0, 100], "nice": false},
                  "axis": {"orient": "bottom", "values": [0, 25, 50, 75, 100], "title": null, "labelPadding": 3}},
            "y": {"field": "y", "type": "quantitative", "scale": {"domain": [-0.2, 1.4], "nice": false, "zero": false},
                  "axis": {"orient": "left", "labels": false, "values": [0, 0.5, 1], "title": null}},
            "order": {"field": "k", "type": "quantitative"}
          }
        },
        {
          "data": {"name": "histO2"},
          "mark": {"type": "line", "interpolate": "step-before", "color": "#0a62c8", "strokeWidth": 2.6},
          "encoding": {
            "x": {"field": "n", "type": "quantitative", "scale": {"domain": [0, 100], "nice": false},
                  "axis": {"orient": "top", "labels": false, "values": [0, 25, 50, 75, 100], "title": null}},
            "y": {"field": "y", "type": "quantitative", "scale": {"domain": [-0.2, 1.4], "nice": false, "zero": false},
                  "axis": {"orient": "right", "labels": false, "values": [0, 0.5, 1], "title": null}},
            "order": {"field": "k", "type": "quantitative"}
          }
        }
      ]
    },
    {
      "width": 447,
      "height": 192,
      "resolve": {"axis": {"x": "independent", "y": "independent"}},
      "layer": [
        {
          "data": {"name": "statH2O"},
          "mark": {"type": "rect", "color": "#fadfe7"},
          "encoding": {
            "y": {"field": "lo", "type": "quantitative", "scale": {"domain": [-0.5, 1.5], "nice": false, "zero": false}, "axis": null},
            "y2": {"field": "hi"}
          }
        },
        {
          "data": {"name": "statH2O"},
          "mark": {"type": "rule", "color": "#e0335c", "strokeDash": [6, 4.5], "strokeWidth": 1.5},
          "encoding": {
            "y": {"field": "median", "type": "quantitative", "scale": {"domain": [-0.5, 1.5], "nice": false, "zero": false}, "axis": null}
          }
        },
        {
          "data": {"name": "h2o"},
          "mark": {"type": "errorbar", "color": "#3b87d9", "thickness": 1.6, "opacity": 0.8},
          "encoding": {
            "x": {"field": "t", "type": "quantitative", "scale": {"domain": [2004.629, 2011.96], "nice": false, "zero": false},
                  "axis": {"orient": "top", "labels": false, "values": [2005, 2006, 2007, 2008, 2009, 2010, 2011], "title": null}},
            "y": {"field": "v", "type": "quantitative", "scale": {"domain": [-0.5, 1.5], "nice": false, "zero": false},
                  "axis": {"orient": "right", "labels": false, "values": [-0.5, 0, 0.5, 1, 1.5], "title": null}},
            "yError": {"field": "e"}
          }
        },
        {
          "data": {"name": "h2o"},
          "mark": {"type": "circle", "size": 20, "opacity": 1, "color": "#0a63c9"},
          "encoding": {
            "x": {"field": "t", "type": "quantitative", "scale": {"domain": [2004.629, 2011.96], "nice": false, "zero": false},
                  "axis": {"orient": "bottom", "values": [2005, 2006, 2007, 2008, 2009, 2010, 2011], "format": "d", "title": "dates", "labelPadding": 3}},
            "y": {"field": "v", "type": "quantitative", "scale": {"domain": [-0.5, 1.5], "nice": false, "zero": false},
                  "axis": {"orient": "left", "values": [-0.5, 0, 0.5, 1, 1.5], "format": ".1f", "title": null, "labelPadding": 10}}
          }
        },
        {
          "data": {"name": "statH2O"},
          "mark": {"type": "rect", "color": "#f8dbe3"},
          "encoding": {
            "x": {"datum": 2004.847, "type": "quantitative", "scale": {"domain": [2004.629, 2011.96], "nice": false, "zero": false}, "axis": null},
            "x2": {"datum": 2005.384},
            "y": {"datum": -0.218, "type": "quantitative", "scale": {"domain": [-0.5, 1.5], "nice": false, "zero": false}, "axis": null},
            "y2": {"datum": -0.339}
          }
        },
        {
          "data": {"name": "statH2O"},
          "mark": {"type": "rule", "color": "#e0335c", "strokeDash": [6, 4.5], "strokeWidth": 1.5},
          "encoding": {
            "x": {"datum": 2004.9, "type": "quantitative", "scale": {"domain": [2004.629, 2011.96], "nice": false, "zero": false}, "axis": null},
            "x2": {"datum": 2005.33},
            "y": {"datum": -0.276, "type": "quantitative", "scale": {"domain": [-0.5, 1.5], "nice": false, "zero": false}, "axis": null}
          }
        },
        {
          "data": {"name": "statH2O"},
          "mark": {"type": "text", "text": "median = 0.60, nMAD = 0.27", "align": "left", "baseline": "middle", "fontSize": 15.5, "color": "#000000"},
          "encoding": {
            "x": {"datum": 2005.574, "type": "quantitative", "scale": {"domain": [2004.629, 2011.96], "nice": false, "zero": false}, "axis": null},
            "y": {"datum": -0.28, "type": "quantitative", "scale": {"domain": [-0.5, 1.5], "nice": false, "zero": false}, "axis": null}
          }
        },
        {
          "data": {"name": "statH2O"},
          "mark": {"type": "text", "text": "λ", "align": "left", "baseline": "middle", "fontSize": 20, "fontStyle": "italic", "font": "DejaVu Sans", "color": "#000000"},
          "encoding": {
            "x": {"datum": 2004.83, "type": "quantitative", "scale": {"domain": [2004.629, 2011.96], "nice": false, "zero": false}, "axis": null},
            "y": {"datum": 1.32, "type": "quantitative", "scale": {"domain": [-0.5, 1.5], "nice": false, "zero": false}, "axis": null}
          }
        },
        {
          "data": {"name": "statH2O"},
          "mark": {"type": "text", "text": "<9000Å", "align": "left", "baseline": "middle", "fontSize": 20, "color": "#000000"},
          "encoding": {
            "x": {"datum": 2005.025, "type": "quantitative", "scale": {"domain": [2004.629, 2011.96], "nice": false, "zero": false}, "axis": null},
            "y": {"datum": 1.32, "type": "quantitative", "scale": {"domain": [-0.5, 1.5], "nice": false, "zero": false}, "axis": null}
          }
        },
        {
          "data": {"name": "statH2O"},
          "mark": {"type": "text", "text": "ρ", "angle": 270, "align": "center", "baseline": "middle", "fontSize": 24, "fontStyle": "italic", "font": "DejaVu Sans", "color": "#000000"},
          "encoding": {
            "x": {"datum": 2003.994, "type": "quantitative", "scale": {"domain": [2004.629, 2011.96], "nice": false, "zero": false}, "axis": null},
            "y": {"datum": 0.385, "type": "quantitative", "scale": {"domain": [-0.5, 1.5], "nice": false, "zero": false}, "axis": null}
          }
        },
        {
          "data": {"name": "statH2O"},
          "mark": {"type": "text", "text": "H₂O", "angle": 270, "align": "center", "baseline": "middle", "fontSize": 13, "font": "DejaVu Sans", "color": "#000000"},
          "encoding": {
            "x": {"datum": 2004.08, "type": "quantitative", "scale": {"domain": [2004.629, 2011.96], "nice": false, "zero": false}, "axis": null},
            "y": {"datum": 0.59, "type": "quantitative", "scale": {"domain": [-0.5, 1.5], "nice": false, "zero": false}, "axis": null}
          }
        }
      ]
    },
    {
      "width": 150,
      "height": 192,
      "resolve": {"axis": {"x": "independent", "y": "independent"}},
      "layer": [
        {
          "data": {"name": "histH2O"},
          "mark": {"type": "line", "interpolate": "step-before", "color": "#5d9ee6", "strokeWidth": 4},
          "encoding": {
            "x": {"field": "n", "type": "quantitative", "scale": {"domain": [0, 80], "nice": false},
                  "axis": {"orient": "bottom", "values": [0, 20, 40, 60, 80], "title": "number", "labelPadding": 3}},
            "y": {"field": "y", "type": "quantitative", "scale": {"domain": [-0.5, 1.5], "nice": false, "zero": false},
                  "axis": {"orient": "left", "labels": false, "values": [-0.5, 0, 0.5, 1, 1.5], "title": null}},
            "order": {"field": "k", "type": "quantitative"}
          }
        },
        {
          "data": {"name": "histH2O"},
          "mark": {"type": "line", "interpolate": "step-before", "color": "#0a62c8", "strokeWidth": 2.6},
          "encoding": {
            "x": {"field": "n", "type": "quantitative", "scale": {"domain": [0, 80], "nice": false},
                  "axis": {"orient": "top", "labels": false, "values": [0, 20, 40, 60, 80], "title": null}},
            "y": {"field": "y", "type": "quantitative", "scale": {"domain": [-0.5, 1.5], "nice": false, "zero": false},
                  "axis": {"orient": "right", "labels": false, "values": [-0.5, 0, 0.5, 1, 1.5], "title": null}},
            "order": {"field": "k", "type": "quantitative"}
          }
        }
      ]
    }
  ]
}
